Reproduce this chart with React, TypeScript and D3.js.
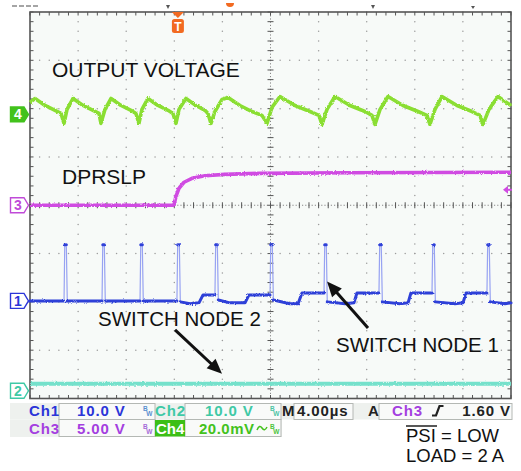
import React from 'react';
import * as d3 from 'd3';

// scope screen: 10 x 8 divisions, 4 µs/div
const timeDomain: [number, number] = [0, 40];
const divDomain: [number, number] = [-4, 4];
const triggerTime = 12.3; // µs from left edge
const triggerLevel = 1.6; // V on Ch3

// channel settings (units/div, ground marker offset in div)
const ch1Setting = { perDiv: 10, offset: -1.98 };
const ch2Setting = { perDiv: 10, offset: -3.84 };
const ch3Setting = { perDiv: 5, offset: 0 };
const ch4Setting = { perDiv: 20, offset: 1.88 }; // mV

// Ch4 output voltage ripple [µs, mV]
const ch4Trace: [number, number][] = [
    [0, 5.0], [0.42, 6.6], [1.25, 3.7], [2.08, 1.7], [2.58, 0.4], [2.83, -3.7], [3.08, 2.1],
    [3.58, 6.6], [4.41, 3.7], [5.24, 1.7], [5.74, 0.4], [5.9, -3.7], [6.24, 2.1],
    [6.74, 6.6], [7.57, 3.7], [8.4, 1.7], [8.81, 0.4], [9.06, -3.7], [9.31, 2.1],
    [9.81, 6.6], [10.64, 3.7], [11.48, 1.7], [11.89, 0.4], [12.14, -3.7], [12.39, 2.1],
    [12.97, 6.6], [13.8, 3.7], [14.55, 1.7], [14.8, 0.4], [15.05, -3.7], [15.38, 1.2],
    [15.97, 6.2], [16.47, 7.0], [17.46, 3.7], [18.46, 1.2], [19.29, -0.4], [19.71, -3.7],
    [20.12, 2.9], [20.79, 7.4], [22.04, 3.7], [23.28, 1.2], [24.03, -0.4], [24.28, -4.1],
    [24.7, 2.1], [25.36, 7.4], [26.61, 3.7], [27.86, 1.2], [28.44, -0.4], [28.69, -4.1],
    [29.11, 2.1], [29.77, 7.4], [31.02, 3.7], [32.27, 1.2], [33.01, -0.4], [33.26, -4.1],
    [33.68, 2.1], [34.26, 7.4], [35.51, 3.7], [36.76, 1.2], [37.42, -0.4], [37.67, -4.1],
    [38.17, 2.1], [38.92, 7.4], [39.5, 5.4], [40, 3.7],
];

// Ch3 DPRSLP [µs, V]
const ch3Trace: [number, number][] = [
    [0, 0], [11.97, 0], [12.14, 0.93], [12.39, 1.76], [12.81, 2.38], [13.47, 2.79],
    [14.55, 3.05], [16.2, 3.2], [19.1, 3.3], [26.6, 3.36], [40, 3.41],
];

// Ch1 switch nodes [µs, V]
const ch1Trace: [number, number][] = [
    [0, 0], [2.83, 0], [2.89, 11.6], [3.02, 11.6], [3.1, 0],
    [5.99, 0], [6.05, 11.6], [6.18, 11.6], [6.26, 0],
    [9.15, 0], [9.21, 11.6], [9.34, 11.6], [9.42, 0],
    [12.22, 0], [12.28, 11.6], [12.42, 11.6], [12.5, -0.2], [13.31, -0.6], [14.05, -0.4],
    [14.39, 1.24], [15.38, 1.24], [15.44, 11.6], [15.58, 11.6], [15.66, 0.2], [16.63, -0.4],
    [17.88, -0.4], [18.21, 1.24], [19.96, 1.24], [20.02, 11.6], [20.15, 11.6], [20.24, 0.2],
    [21.62, -0.6], [22.29, -0.6], [22.62, 1.66], [24.45, 1.66], [24.51, 11.6], [24.64, 11.6],
    [24.72, -0.2], [26.2, -0.6], [26.94, -0.4], [27.19, 1.66], [29.02, 1.66], [29.08, 11.6],
    [29.21, 11.6], [29.3, -0.2], [30.77, -0.6], [31.44, -0.4], [31.68, 1.66], [33.43, 1.66],
    [33.49, 11.6], [33.62, 11.6], [33.71, -0.2], [35.34, -0.6], [36.01, -0.4], [36.26, 1.66],
    [38.0, 1.66], [38.06, 11.6], [38.19, 11.6], [38.28, -0.2], [39.5, -0.6], [40, -0.4],
];

// Ch2 [µs, V]
const ch2Trace: [number, number][] = [[0, 1.45], [40, 1.45]];

// annotation arrows [µs, div] start -> tip
const arrowSN2: [number, number][] = [[12.06, -2.58], [15.97, -3.49]];
const arrowSN1: [number, number][] = [[28.11, -2.54], [24.7, -1.58]];

const FONT = '"Liberation Sans", Arial, Helvetica, sans-serif';
const C1 = '#2f3fd8', C1_LIGHT = '#97a2f2', C2 = '#74e1cb', C3 = '#d04be2', C4 = '#8ade32';
const T1 = '#2b35d8', T2 = '#3fc9a6', T3 = '#a43fe0', T4 = '#43c21c';

const x = d3.scaleLinear().domain(timeDomain).range([30, 511]);
const yDiv = d3.scaleLinear().domain(divDomain).range([398.5, 12]);
const chY = (s: { perDiv: number; offset: number }) => (v: number) => yDiv(v / s.perDiv + s.offset);

const mkLine = (fy: (v: number) => number) =>
    d3.line<[number, number]>().x(d => x(d[0])).y(d => fy(d[1]));

function Arrow({ pts }: { pts: [number, number][] }) {
    const [x0, y0] = [x(pts[0][0]), yDiv(pts[0][1])];
    const [x1, y1] = [x(pts[1][0]), yDiv(pts[1][1])];
    const len = Math.hypot(x1 - x0, y1 - y0);
    const ux = (x1 - x0) / len, uy = (y1 - y0) / len;
    const hl = 15, hw = 6.5;
    const bx = x1 - ux * hl, by = y1 - uy * hl;
    return (
        <g>
            <line x1={x0} y1={y0} x2={bx + ux * 2} y2={by + uy * 2} stroke="#111" strokeWidth={3} />
            <polygon points={`${x1},${y1} ${bx - uy * hw},${by + ux * hw} ${bx + uy * hw},${by - ux * hw}`} fill="#111" />
        </g>
    );
}

function Marker({ n, cy, color, filled }: { n: string; cy: number; color: string; filled?: boolean }) {
    const h = 7.5;
    return (
        <g>
            <path d={`M10.5,${cy - h} L24,${cy - h} L28.5,${cy} L24,${cy + h} L10.5,${cy + h} Z`}
                fill={filled ? color : '#fff'} stroke={color} strokeWidth={1.4} />
            <text x={18} y={cy + 5} textAnchor="middle" fontFamily={FONT} fontWeight="bold" fontSize={14}
                fill={filled ? '#fff' : color}>{n}</text>
        </g>
    );
}

// tiny bandwidth-limit glyph: raised B, lowered W
function BW({ px, py, color }: { px: number; py: number; color: string }) {
    return (
        <text x={px} y={py - 5} fontFamily={FONT} fontSize={6.5} fontWeight="bold" fill={color}>
            B<tspan dx={-1.5} dy={5}>W</tspan>
        </text>
    );
}

export default function App() {
    const minorT = d3.range(0, 40.001, 0.8);
    const minorD = d3.range(-4, 4.001, 0.2);
    const majorT = d3.range(4, 37, 4).filter(t => t !== 20);
    const majorD = d3.range(-3, 4, 1).filter(d => d !== 0);

    const y1 = chY(ch1Setting), y2 = chY(ch2Setting), y3 = chY(ch3Setting), y4 = chY(ch4Setting);

    // split Ch1 into flat runs (thick) vs fast edges (thin)
    const runs: [number, number][][] = [];
    let cur: [number, number][] = [ch1Trace[0]];
    for (let i = 1; i < ch1Trace.length; i++) {
        const dy = Math.abs(y1(ch1Trace[i][1]) - y1(ch1Trace[i - 1][1]));
        if (dy > 12) { runs.push(cur); cur = [ch1Trace[i]]; }
        else cur.push(ch1Trace[i]);
    }
    runs.push(cur);

    const cx = x(20), cyc = yDiv(0);
    const tx = x(triggerTime);
    const trigY = y3(triggerLevel);

    return (
        <div style={{ position: 'absolute', left: 0, top: 0 }}>
            <svg width={521} height={471} viewBox="0 0 521 471">
                <defs>
                    <filter id="fuzz" filterUnits="userSpaceOnUse" x={0} y={0} width={521} height={471}>
                        <feTurbulence type="fractalNoise" baseFrequency="0.9" numOctaves={2} seed={4} result="n" />
                        <feDisplacementMap in="SourceGraphic" in2="n" scale={2.6} xChannelSelector="R" yChannelSelector="G" />
                    </filter>
                </defs>
                <rect width={521} height={471} fill="#fff" />
                <rect x={30} y={12} width={481} height={386.5} fill="#f7faf8" />

                {/* top strip marks */}
                <line x1={12} x2={40} y1={6} y2={6} stroke="#888" strokeWidth={1.5} strokeDasharray="5 2" />
                <path d="M166,5 L170,5 L168,9 Z" fill="#555" />
                <path d={`M${226},3 A4,4 0 0,0 ${234},3 Z`} fill="#f26a21" />
                <path d="M371,5 L375,5 L373,9 Z" fill="#555" />
                <path d="M471,6 L475,6 L473,9 Z" fill="#555" />

                {/* graticule dots */}
                <g fill="#9c9c9c">
                    {majorT.flatMap(t => minorD.map(d => (
                        <circle key={`v${t}_${d}`} cx={x(t)} cy={yDiv(d)} r={0.75} />
                    )))}
                    {majorD.flatMap(d => minorT.map(t => (
                        <circle key={`h${d}_${t}`} cx={x(t)} cy={yDiv(d)} r={0.75} />
                    )))}
                </g>
                {/* center axes */}
                <line x1={cx} x2={cx} y1={12} y2={398.5} stroke="#888" strokeWidth={1} strokeDasharray="1.2 2" />
                <line x1={30} x2={511} y1={cyc} y2={cyc} stroke="#888" strokeWidth={1} strokeDasharray="1.2 2" />
                <g stroke="#555" strokeWidth={1}>
                    {minorD.map(d => <line key={`cv${d}`} x1={cx - 3} x2={cx + 3} y1={yDiv(d)} y2={yDiv(d)} />)}
                    {minorT.map(t => <line key={`ch${t}`} x1={x(t)} x2={x(t)} y1={cyc - 3} y2={cyc + 3} />)}
                    {minorT.map(t => <line key={`tt${t}`} x1={x(t)} x2={x(t)} y1={12} y2={15.5} />)}
                    {minorT.map(t => <line key={`tb${t}`} x1={x(t)} x2={x(t)} y1={398.5} y2={395} />)}
                    {minorD.map(d => <line key={`tl${d}`} x1={30} x2={33.5} y1={yDiv(d)} y2={yDiv(d)} />)}
                    {minorD.map(d => <line key={`tr${d}`} x1={511} x2={507.5} y1={yDiv(d)} y2={yDiv(d)} />)}
                </g>
                <rect x={30} y={12} width={481} height={386.5} fill="none" stroke="#555" strokeWidth={1.6} />

                {/* traces */}
                <path d={mkLine(y2)(ch2Trace) || ''} fill="none" stroke={C2} strokeWidth={4} filter="url(#fuzz)" />
                <path d={mkLine(y1)(ch1Trace) || ''} fill="none" stroke={C1_LIGHT} strokeWidth={1.2} />
                <g filter="url(#fuzz)">
                    {runs.map((r, i) => (
                        <path key={i} d={mkLine(y1)(r) || ''} fill="none" stroke={C1} strokeWidth={3}
                            strokeLinecap="round" strokeLinejoin="round" />
                    ))}
                </g>
                <path d={mkLine(y3)(ch3Trace) || ''} fill="none" stroke={C3} strokeWidth={3.6}
                    strokeLinejoin="round" filter="url(#fuzz)" />
                <path d={mkLine(y4)(ch4Trace) || ''} fill="none" stroke={C4} strokeWidth={3.6}
                    strokeLinejoin="round" filter="url(#fuzz)" />

                {/* trigger marker */}
                <path d={`M${tx - 6},12 L${tx + 6},12 L${tx},18 Z`} fill="#f26a21" />
                <rect x={tx - 6} y={19} width={12} height={14} rx={2.5} fill="#f26a21" />
                <text x={tx} y={30.5} textAnchor="middle" fontFamily={FONT} fontWeight="bold" fontSize={12} fill="#fff">T</text>
                {/* trigger level */}
                <path d={`M503,${trigY} L508,${trigY - 4} L508,${trigY + 4} Z`} fill={C3} />
                <line x1={506} x2={512} y1={trigY} y2={trigY} stroke={C3} strokeWidth={2} />

                {/* channel ground markers */}
                <Marker n="4" cy={y4(0)} color={T4} filled />
                <Marker n="3" cy={y3(0)} color="#c04ad8" />
                <Marker n="1" cy={y1(0)} color={T1} />
                <Marker n="2" cy={y2(0)} color={T2} />

                {/* labels */}
                <g fontFamily={FONT} fill="#111">
                    <text x={52} y={76.5} fontSize={21}>OUTPUT VOLTAGE</text>
                    <text x={62} y={184} fontSize={21}>DPRSLP</text>
                    <text x={98} y={326} fontSize={20.5}>SWITCH NODE 2</text>
                    <text x={336} y={352} fontSize={20.5}>SWITCH NODE 1</text>
                </g>
                <Arrow pts={arrowSN2} />
                <Arrow pts={arrowSN1} />

                {/* status bar */}
                <rect x={10} y={403} width={502} height={16.5} fill="#eef1ee" />
                <rect x={10} y={419.5} width={272} height={17.5} fill="#eef1ee" />
                <g fill="#f9faf9" stroke="#b4b8b4" strokeWidth={1}>
                    <rect x={59} y={403.5} width={96} height={16} />
                    <rect x={185} y={403.5} width={96} height={16} />
                    <rect x={294} y={403.5} width={59} height={16} />
                    <rect x={379} y={403.5} width={133} height={16} />
                    <rect x={59} y={419.5} width={96} height={17} />
                    <rect x={185} y={419.5} width={96} height={17} />
                </g>
                <rect x={155} y={420} width={30} height={16.5} fill="#3cbf16" />
                <g fontFamily={FONT} fontWeight="bold" fontSize={15} letterSpacing={0.9}>
                    <text x={29} y={416} fill={T1}>Ch1</text>
                    <text x={77} y={416} fill={T1}>10.0 V</text>
                    <text x={155} y={416} fill={T2}>Ch2</text>
                    <text x={205} y={416} fill={T2}>10.0 V</text>
                    <text x={282} y={416} fill="#222" letterSpacing={0}>M</text>
                    <text x={297} y={416} fill="#222">4.00µs</text>
                    <text x={368} y={416} fill="#222">A</text>
                    <text x={392} y={416} fill={T3}>Ch3</text>
                    <text x={511} y={416} fill="#222" textAnchor="end">1.60 V</text>
                    <text x={29} y={434} fill={T3}>Ch3</text>
                    <text x={77} y={434} fill={T3}>5.00 V</text>
                    <text x={156} y={434} fill="#fff" letterSpacing={0}>Ch4</text>
                    <text x={199} y={434} fill={T4} letterSpacing={0.5}>20.0mV</text>
                </g>
                <path d="M432,415.5 L436,415.5 L439.5,406 L443.5,406" fill="none" stroke="#222" strokeWidth={2.2} />
                <path d="M257,430 Q259.5,424 262,428 T267,427" fill="none" stroke={T4} strokeWidth={1.5} />
                <BW px={143} py={416} color="#5a8fd0" />
                <BW px={270} py={416} color="#4cc4a4" />
                <BW px={143} py={434} color="#a46ad8" />
                <BW px={270} py={434} color="#4cc43c" />

                {/* conditions */}
                <g fontFamily={FONT} fontSize={18.5} fill="#111">
                    <text x={406} y={442}>PSI = LOW</text>
                    <text x={406} y={461.5}>LOAD = 2 A</text>
                </g>
                <line x1={406} x2={437} y1={426} y2={426} stroke="#111" strokeWidth={1.4} />
            </svg>
        </div>
    );
}
